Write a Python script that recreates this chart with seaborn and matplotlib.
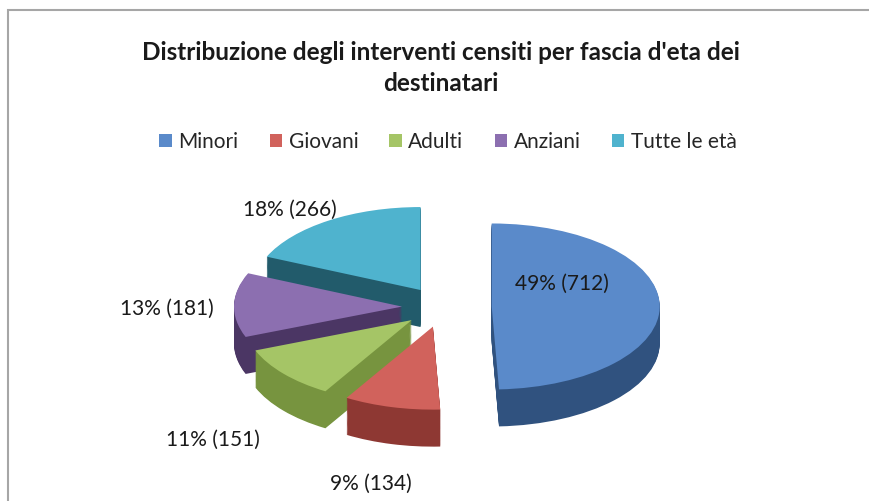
import numpy as np
import matplotlib
matplotlib.use("Agg")
import matplotlib.pyplot as plt
import seaborn as sns
from matplotlib.patches import Rectangle

# Data
categories = ["Minori", "Giovani", "Adulti", "Anziani", "Tutte le età"]
counts = [712, 134, 151, 181, 266]
percents = [49, 9, 11, 13, 18]

# Style
top_colors = ["#5A8ACA", "#D1625C", "#A5C566", "#8C6FB0", "#4FB3CE"]
side_colors = ["#30527F", "#8E3833", "#77943F", "#4B3664", "#225B6B"]
explode = [0.29, 0.244, 0.244, 0.244, 0.244]
label_dist = [0.45, 1.5, 1.55, 1.4, 1.2]
label_nudge = [(-0.03, 0.26), (0, 0), (0, 0), (0, -0.05), (-0.12, -0.035)]

sns.set_theme(style="white")
plt.rcParams["font.family"] = ["Lato", "DejaVu Sans"]

W, H = 869, 501
fig = plt.figure(figsize=(W / 100, H / 100), dpi=100)
ax = fig.add_axes([0, 0, 1, 1])

# pixel layout of the tilted pie
cx_px, cy_px = 443, 307
rx_px, ry_px = 168, 83
depth = 37 / ry_px
n_layers = 40

pie_kw = dict(explode=explode, startangle=90, counterclock=False, frame=True)

# side walls: stack of darker pies going down
for k in range(n_layers, 0, -1):
    ax.pie(counts, colors=side_colors, center=(0, -depth * k / n_layers),
           wedgeprops=dict(linewidth=0), **pie_kw)

# top faces
wedges, _ = ax.pie(counts, colors=top_colors, wedgeprops=dict(linewidth=0), **pie_kw)

ax.set_aspect("auto")
ax.set_xlim(-cx_px / rx_px, (W - cx_px) / rx_px)
ax.set_ylim(-(H - cy_px) / ry_px, cy_px / ry_px)
ax.axis("off")

# data labels
for i, w in enumerate(wedges):
    theta = np.deg2rad((w.theta1 + w.theta2) / 2)
    x0, y0 = w.center
    lx = x0 + label_dist[i] * np.cos(theta) + label_nudge[i][0]
    ly = y0 + label_dist[i] * np.sin(theta) + label_nudge[i][1]
    if i > 0 and np.sin(theta) < 0:
        ly -= depth
    ax.text(lx, ly, f"{percents[i]}% ({counts[i]})", ha="center", va="center",
            fontsize=15, color="#1a1a1a")

# title and legend
fig.text(441 / W, 1 - 68 / H,
         "Distribuzione degli interventi censiti per fascia d'eta dei\ndestinatari",
         ha="center", va="center", fontsize=17.5, fontweight="bold", linespacing=1.4,
         color="#1a1a1a")
fig.legend(wedges, categories, loc="center", bbox_to_anchor=(448 / W, 1 - 142 / H),
           ncol=5, frameon=False, fontsize=15, handlelength=0.58, handleheight=0.58,
           handletextpad=0.33, columnspacing=1.5)

# chart border
fig.add_artist(Rectangle((8 / W, -0.1), 1.2, 1.1 - 10 / H, transform=fig.transFigure,
                         fill=False, edgecolor="#a6a6a6", linewidth=1.5))

fig.savefig("out.png", dpi=100)
